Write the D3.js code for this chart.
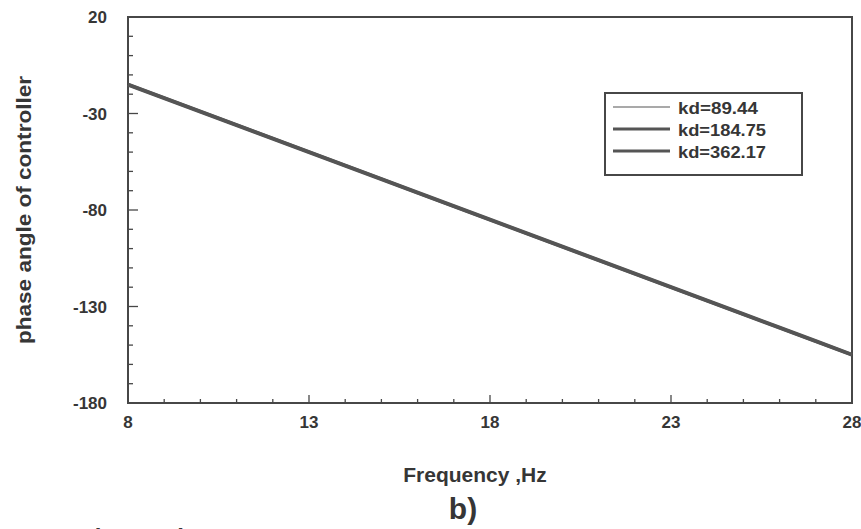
<!DOCTYPE html>
<html>
<head>
<meta charset="utf-8">
<script src="https://cdn.jsdelivr.net/npm/d3@7"></script>
<style>
  body { margin: 0; background: white; overflow: hidden; }
  text { font-family: "Liberation Sans", Arial, sans-serif; font-weight: bold; fill: #363636; }
</style>
</head>
<body>
<script>
// data (phase in degrees at each Hz)
const freq = [8, 9, 10, 11, 12, 13, 14, 15, 16, 17, 18, 19, 20, 21, 22, 23, 24, 25, 26, 27, 28]
const kd89 = [-15, -22, -29, -36, -43, -50, -57, -64, -71, -78, -85, -92, -99, -106, -113, -120, -127, -134, -141, -148, -155]
const kd184 = [-15, -22, -29, -36, -43, -50, -57, -64, -71, -78, -85, -92, -99, -106, -113, -120, -127, -134, -141, -148, -155]
const kd362 = [-15, -22, -29, -36, -43, -50, -57, -64, -71, -78, -85, -92, -99, -106, -113, -120, -127, -134, -141, -148, -155]
const seriesNames = ["kd=89.44", "kd=184.75", "kd=362.17"]
const xTicks = [8, 13, 18, 23, 28]
const yTicks = [20, -30, -80, -130, -180]

const [width, height] = [861, 529]
const margin = { left: 128, right: 9, top: 17, bottom: 126 }
const colors = {
    line: "#555555",
    frame: "#474747",
    text: "#363636"
}

const x = d3.scaleLinear().domain([8, 28]).range([margin.left, width - margin.right])
const y = d3.scaleLinear().domain([-180, 20]).range([height - margin.bottom, margin.top])

const svg = d3.select("body")
    .append("svg")
        .attr("width", width)
        .attr("height", height)
        .style("display", "block")

// frame
svg.append("rect")
    .attr("x", x(8))
    .attr("y", y(20))
    .attr("width", x(28) - x(8))
    .attr("height", y(-180) - y(20))
    .attr("fill", "none")
    .attr("stroke", colors.frame)
    .attr("stroke-width", 2)

// x ticks (inside, pointing up)
svg.append("g")
    .attr("stroke", colors.frame)
    .attr("stroke-width", 1.3)
    .selectAll()
        .data(d3.range(8, 29, 1))
        .join("line")
            .attr("x1", d => x(d))
            .attr("x2", d => x(d))
            .attr("y1", y(-180))
            .attr("y2", d => y(-180) - ((d - 8) % 5 === 0 ? 8 : 4))

// y ticks (inside, pointing right)
svg.append("g")
    .attr("stroke", colors.frame)
    .attr("stroke-width", 1.3)
    .selectAll()
        .data(d3.range(-180, 21, 10))
        .join("line")
            .attr("y1", d => y(d))
            .attr("y2", d => y(d))
            .attr("x1", x(8))
            .attr("x2", d => x(8) + ((d + 180) % 50 === 0 ? 10 : 5))

svg.append("g")
    .selectAll()
        .data(xTicks)
        .join("text")
            .attr("x", d => x(d))
            .attr("y", y(-180) + 25)
            .attr("text-anchor", "middle")
            .style("font-size", "17px")
            .text(d => d)

svg.append("g")
    .selectAll()
        .data(yTicks)
        .join("text")
            .attr("x", x(8) - 21)
            .attr("y", d => y(d) + 6)
            .attr("text-anchor", "end")
            .style("font-size", "17px")
            .text(d => d)

// lines
const line = d3.line()
    .x((d, i) => x(freq[i]))
    .y(d => y(d))

const series = [kd89, kd184, kd362]
const widths = [1.5, 3.2, 4]
svg.append("g")
    .attr("fill", "none")
    .attr("stroke", colors.line)
    .selectAll()
        .data(series)
        .join("path")
            .attr("stroke-width", (d, i) => widths[i])
            .attr("d", line)

// legend
const legend = svg.append("g").attr("transform", "translate(605,93)")
legend.append("rect")
    .attr("width", 197)
    .attr("height", 82)
    .attr("fill", "white")
    .attr("stroke", colors.frame)
    .attr("stroke-width", 2)
const item = legend.selectAll("g")
    .data(seriesNames)
    .join("g")
        .attr("transform", (d, i) => `translate(0,${14 + i * 22})`)
item.append("line")
    .attr("x1", 8)
    .attr("x2", 65)
    .attr("stroke", colors.line)
    .attr("stroke-width", (d, i) => [1.2, 2.8, 3.2][i])
item.append("text")
    .attr("x", 73)
    .attr("y", 7)
    .style("font-size", "17px")
    .attr("textLength", (d, i) => [80, 88, 88][i])
    .attr("lengthAdjust", "spacingAndGlyphs")
    .text(d => d)

// axis titles
svg.append("text")
    .attr("transform", "translate(31,210) rotate(-90)")
    .attr("text-anchor", "middle")
    .style("font-size", "20px")
    .attr("textLength", 268)
    .attr("lengthAdjust", "spacingAndGlyphs")
    .text("phase angle of controller")

svg.append("text")
    .attr("x", 475)
    .attr("y", 482)
    .attr("text-anchor", "middle")
    .style("font-size", "21px")
    .text("Frequency ,Hz")

svg.append("text")
    .attr("x", 463)
    .attr("y", 519)
    .attr("text-anchor", "middle")
    .style("font-size", "30px")
    .text("b)")

// caption, only its top shows at the bottom edge (as in the scan)
svg.append("text")
    .attr("x", 80)
    .attr("y", 546)
    .style("font-size", "24px")
    .text("Fig. 14 The")
</script>
</body>
</html>
